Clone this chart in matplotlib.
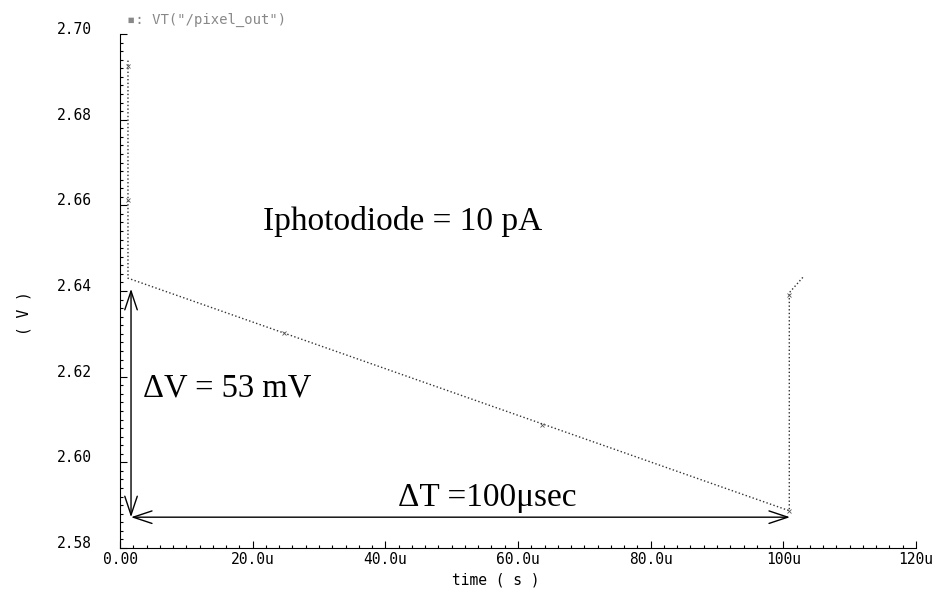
import matplotlib
matplotlib.use("Agg")
import matplotlib.pyplot as plt
from matplotlib.ticker import MultipleLocator, FixedLocator, FixedFormatter

# =============================
# DATA (time in microseconds, voltage in V)
# =============================

t_us = [1.2, 1.2, 100.9, 100.9, 103.0]
v_out = [2.6938, 2.6430, 2.5887, 2.6396, 2.6433]

marker_t = [1.2, 1.2, 24.7, 63.6, 100.9, 100.9]
marker_v = [2.6925, 2.6612, 2.6302, 2.6088, 2.5887, 2.6390]

x_ticks = [0, 20, 40, 60, 80, 100, 120]
x_labels = ["0.00", "20.0u", "40.0u", "60.0u", "80.0u", "100u", "120u"]
y_ticks = [2.58, 2.60, 2.62, 2.64, 2.66, 2.68, 2.70]
y_labels = ["2.58", "2.60", "2.62", "2.64", "2.66", "2.68", "2.70"]

# annotation anchors
dv_top = 2.6405
dv_bottom = 2.5872
dt_start = 1.66
dt_end = 101.0

# =============================
# FIGURE
# =============================

mono = "DejaVu Sans Mono"
serif = "Liberation Serif"

fig = plt.figure(figsize=(9.45, 5.96), dpi=100)
ax = fig.add_axes([0.127, 0.0805, 0.8423, 0.8624])

ax.plot(t_us, v_out, linestyle=":", color="#333333", linewidth=1.0)
ax.plot(marker_t, marker_v, linestyle="none", marker="x",
        markersize=3, markeredgewidth=0.6, color="#555555")

ax.set_xlim(0, 120)
ax.set_ylim(2.58, 2.70)

ax.xaxis.set_major_locator(FixedLocator(x_ticks))
ax.xaxis.set_major_formatter(FixedFormatter(x_labels))
ax.xaxis.set_minor_locator(MultipleLocator(2))
ax.yaxis.set_major_locator(FixedLocator(y_ticks))
ax.yaxis.set_major_formatter(FixedFormatter(y_labels))
ax.yaxis.set_minor_locator(MultipleLocator(0.002))

for s in ["top", "right"]:
    ax.spines[s].set_visible(False)
for s in ["left", "bottom"]:
    ax.spines[s].set_linewidth(0.8)

ax.tick_params(which="major", direction="in", length=5, width=0.8,
               labelsize=10.5)
ax.tick_params(which="minor", direction="in", length=2.5, width=0.8)
ax.tick_params(axis="x", which="major", pad=3)
ax.tick_params(axis="y", which="major", pad=20)

for lbl in ax.get_xticklabels() + ax.get_yticklabels():
    lbl.set_family(mono)
for lbl in ax.get_yticklabels():
    lbl.set_va("baseline")

fig.text(0.025, 0.475, "( V )", rotation=90, fontsize=10.5, family=mono,
         ha="center", va="center")
fig.text(0.525, 0.027, "time ( s )", fontsize=10.5, family=mono,
         ha="center", va="center")
fig.text(0.134, 0.966, "\u25aa: VT(\"/pixel_out\")", fontsize=10,
         family=mono, color="#888888", ha="left", va="center")

# =============================
# ANNOTATIONS
# =============================

arrow = dict(arrowstyle="<->,head_length=0.9,head_width=0.3",
             color="black", linewidth=1.0, mutation_scale=15,
             shrinkA=0, shrinkB=0)
ax.annotate("", xy=(dt_start, dv_top), xytext=(dt_start, dv_bottom),
            arrowprops=arrow)
ax.annotate("", xy=(dt_end, dv_bottom), xytext=(dt_start, dv_bottom),
            arrowprops=arrow)

ax.text(21.6, 2.6543, "Iphotodiode = 10 pA", family=serif, fontsize=24,
        ha="left", va="baseline")
ax.text(3.5, 2.6153, "\u0394V = 53 mV", family=serif, fontsize=23.5,
        ha="left", va="baseline")
ax.text(41.9, 2.5898, "\u0394T =100\u03bcsec", family=serif, fontsize=24,
        ha="left", va="baseline")

fig.savefig("out.png", dpi=100)
